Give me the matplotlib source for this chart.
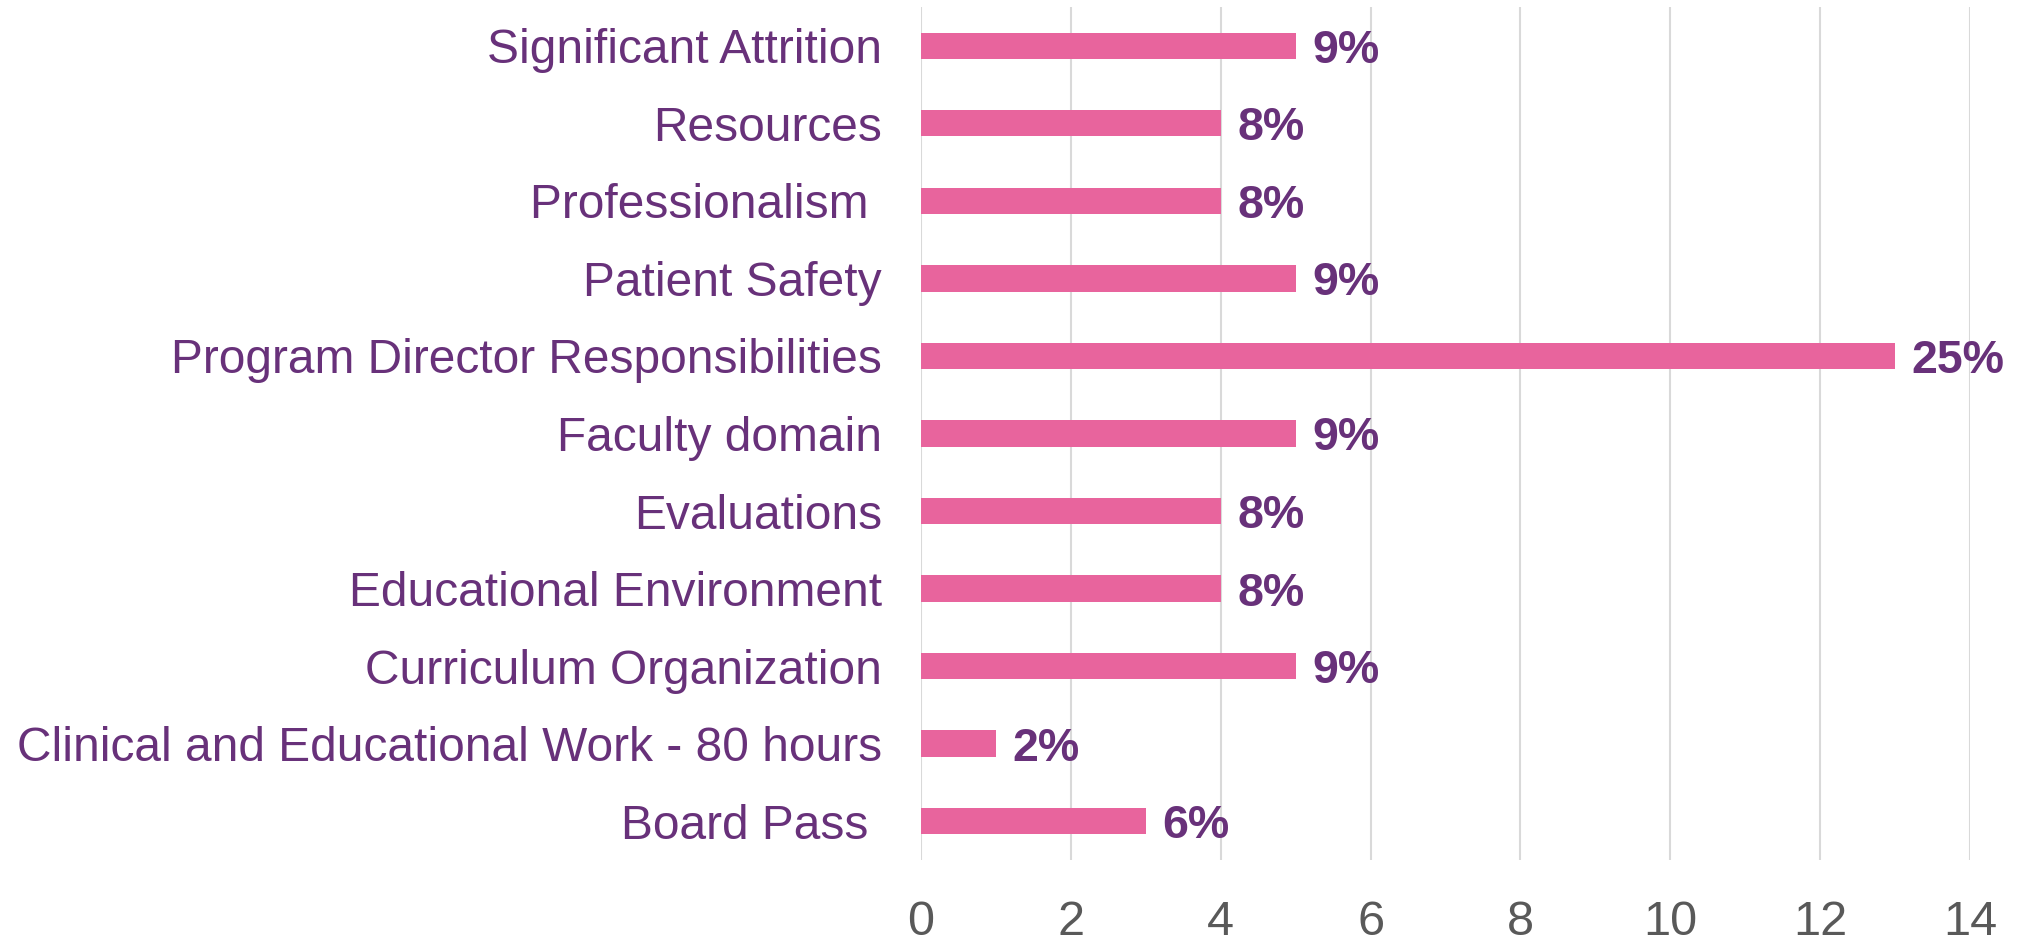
import matplotlib.pyplot as plt

plt.rcParams['font.family'] = ['Liberation Sans', 'DejaVu Sans']

categories = ['Board Pass ', 'Clinical and Educational Work - 80 hours',
              'Curriculum Organization', 'Educational Environment', 'Evaluations',
              'Faculty domain', 'Program Director Responsibilities', 'Patient Safety',
              'Professionalism ', 'Resources', 'Significant Attrition']
counts = [3, 1, 5, 4, 4, 5, 13, 5, 4, 4, 5]
pct_labels = ['6%', '2%', '9%', '8%', '8%', '9%', '25%', '9%', '8%', '8%', '9%']
xticks = [0, 2, 4, 6, 8, 10, 12, 14]

bar_color = '#E8649D'
label_color = '#68317A'

fig = plt.figure(figsize=(20.21, 9.40), dpi=100)
ax = fig.add_axes([0.4557, 0.0851, 0.5191, 0.9075])

y = list(range(len(categories)))
bars = ax.barh(y, counts, height=0.34, color=bar_color, zorder=3)

for rect, lab in zip(bars, pct_labels):
    ax.annotate(lab, (rect.get_width(), rect.get_y() + rect.get_height() / 2),
                xytext=(12, 0), textcoords='offset points', ha='left',
                va='center_baseline', fontsize=33.5, fontweight='bold',
                color=label_color)

ax.set_xlim(0, 14)
ax.set_ylim(-0.5, len(categories) - 0.5)
ax.set_xticks(xticks)
ax.set_xticklabels([str(t) for t in xticks])
ax.set_yticks(y)
ax.set_yticklabels(categories)

ax.tick_params(axis='x', length=0, pad=29, labelsize=35, labelcolor='#595959')
ax.tick_params(axis='y', length=0, pad=28, labelsize=34.5, labelcolor=label_color)

ax.grid(axis='x', color='#D9D9D9', linewidth=1.5, zorder=0)
for s in ax.spines.values():
    s.set_visible(False)

fig.savefig('out.png', dpi=100)
